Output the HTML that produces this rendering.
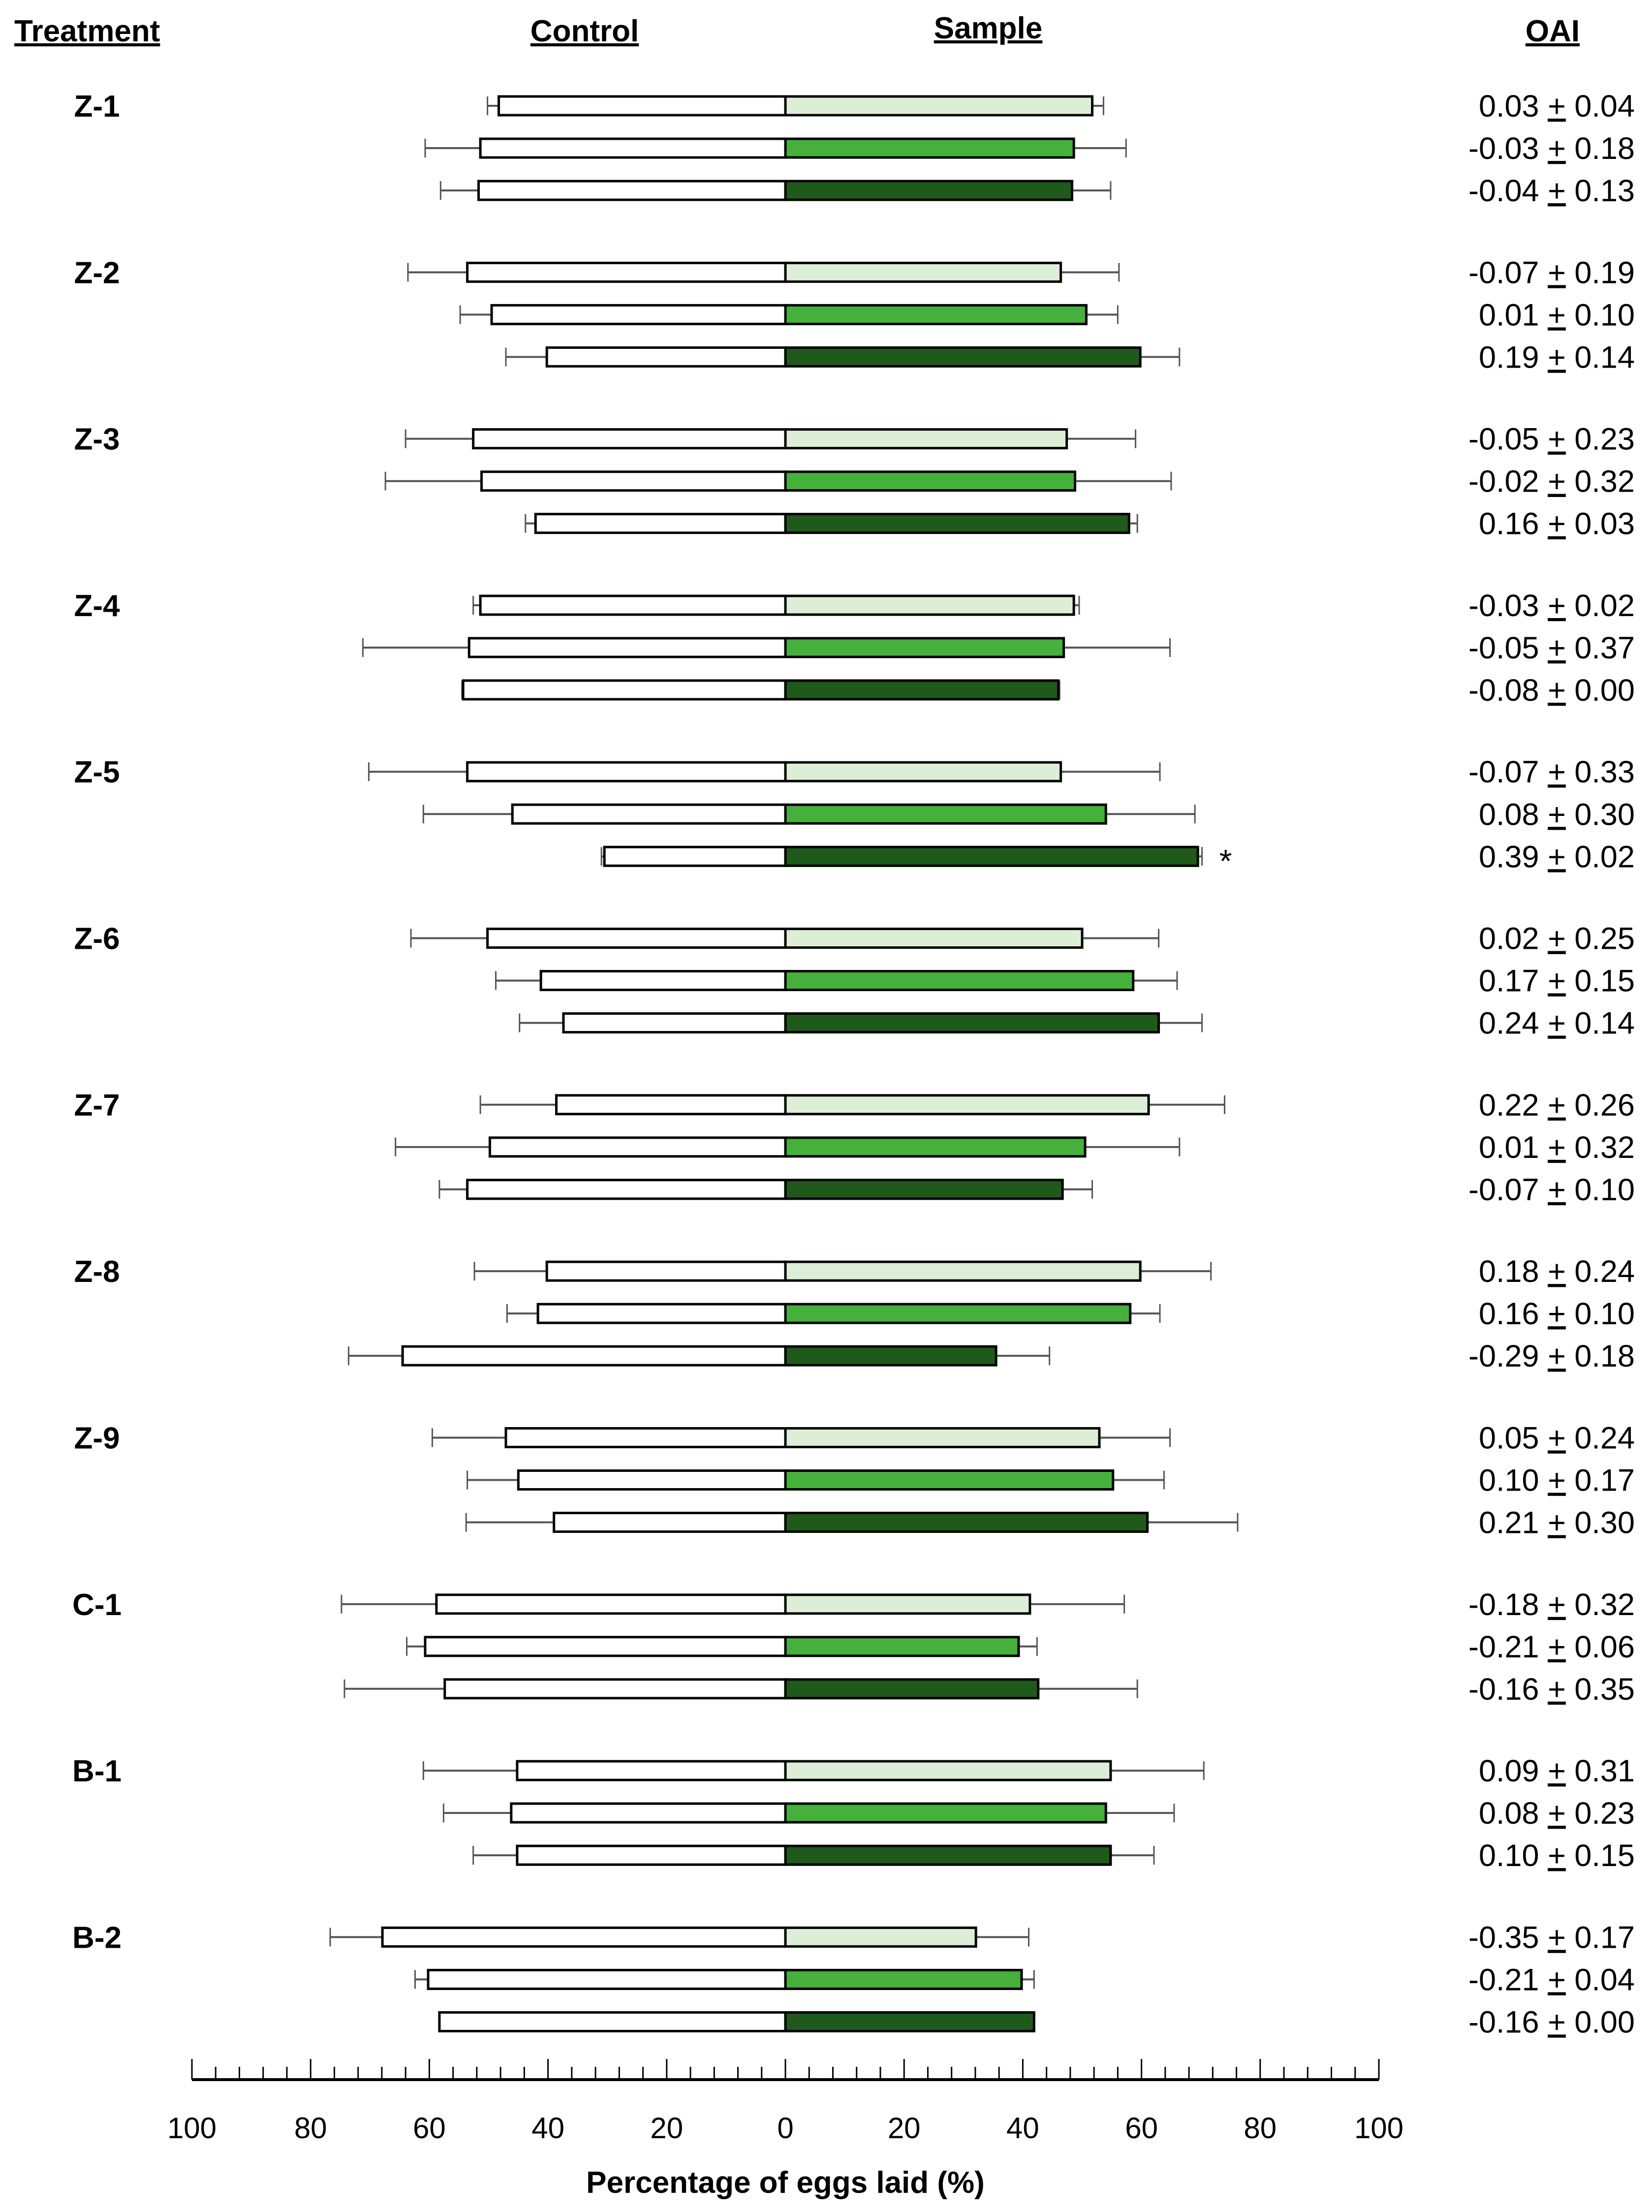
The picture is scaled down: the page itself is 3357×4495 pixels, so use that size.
<!DOCTYPE html>
<html><head><meta charset="utf-8"><style>
html,body{margin:0;padding:0;background:#fff}
svg{display:block}
text{font-family:"Liberation Sans",sans-serif}
</style></head><body>
<svg id="chart" width="3357" height="4495" viewBox="0 0 3357 4495" xmlns="http://www.w3.org/2000/svg">
<g font-weight="bold" font-size="62" text-decoration="underline">
<text x="29" y="84">Treatment</text>
<text x="1188" y="84" text-anchor="middle">Control</text>
<text x="2008" y="78" text-anchor="middle">Sample</text>
<text x="3155" y="84" text-anchor="middle">OAI</text>
</g>
<g id="bars"></g>
<g id="axis"></g>
<text x="1596" y="4456" text-anchor="middle" font-size="62" font-weight="bold">Percentage of eggs laid (%)</text>
</svg>
<script>
const groups = ["Z-1","Z-2","Z-3","Z-4","Z-5","Z-6","Z-7","Z-8","Z-9","C-1","B-1","B-2"];
const controlVals = [48.3,51.4,51.7, 53.6,49.5,40.2, 52.6,51.2,42.1, 51.4,53.3,54.3, 53.6,46.0,30.5, 50.2,41.2,37.4, 38.6,49.8,53.6, 40.2,41.7,64.5, 47.1,45.0,39.0, 58.8,60.7,57.4, 45.2,46.2,45.2, 67.9,60.2,58.3];
const controlErr = [50.2,60.7,58.1, 63.6,54.8,47.1, 64.0,67.4,43.8, 52.6,71.2,54.5, 70.2,61.0,31.0, 63.1,48.8,44.8, 51.4,65.7,58.3, 52.4,46.9,73.6, 59.5,53.6,53.8, 74.8,63.8,74.3, 61.0,57.6,52.6, 76.7,62.4,58.3];
const sampleVals = [51.7,48.6,48.3, 46.4,50.7,59.8, 47.4,48.8,57.9, 48.6,46.9,46.0, 46.4,54.0,69.5, 50.0,58.6,62.9, 61.2,50.5,46.7, 59.8,58.1,35.5, 52.9,55.2,61.0, 41.2,39.3,42.6, 54.8,54.0,54.8, 32.1,39.8,41.9];
const sampleErr = [53.6,57.4,54.8, 56.2,56.0,66.4, 59.0,65.0,59.3, 49.5,64.8,46.2, 63.1,69.0,70.2, 62.9,66.0,70.2, 74.0,66.4,51.7, 71.7,63.1,44.5, 64.8,63.8,76.2, 57.1,42.4,59.3, 70.5,65.5,62.1, 41.0,41.9,41.9];
const oaiMean = ["0.03","-0.03","-0.04","-0.07","0.01","0.19","-0.05","-0.02","0.16","-0.03","-0.05","-0.08","-0.07","0.08","0.39","0.02","0.17","0.24","0.22","0.01","-0.07","0.18","0.16","-0.29","0.05","0.10","0.21","-0.18","-0.21","-0.16","0.09","0.08","0.10","-0.35","-0.21","-0.16"];
const oaiSd = ["0.04","0.18","0.13","0.19","0.10","0.14","0.23","0.32","0.03","0.02","0.37","0.00","0.33","0.30","0.02","0.25","0.15","0.14","0.26","0.32","0.10","0.24","0.10","0.18","0.24","0.17","0.30","0.32","0.06","0.35","0.31","0.23","0.15","0.17","0.04","0.00"];
const sampleColors = ["#dcefd6","#45b03c","#1f5a1b"];
const xTicks = [100,80,60,40,20,0,20,40,60,80,100];

const NS="http://www.w3.org/2000/svg";
const X0=1596, PX=12.06;
const xl = v => X0 - v*PX;
const xr = v => X0 + v*PX;
const yRow = i => (75 + 118*Math.floor(i/3) + 30*(i%3))*2.867;
function mk(tag, attrs, parent){const e=document.createElementNS(NS,tag);for(const k in attrs)e.setAttribute(k,attrs[k]);parent.appendChild(e);return e;}
const bars=document.getElementById('bars');
const BH=38;
groups.forEach((g,gi)=>{
  const t=mk('text',{x:197,y:yRow(gi*3)+22,'text-anchor':'middle','font-size':62,'font-weight':'bold'},bars);
  t.textContent=g;
  
  
});
controlVals.forEach((v,i)=>{
  const y=yRow(i);
  const g=mk('g',{},bars);
  
  
  const e1=mk('line',{x1:xl(v),x2:xl(controlErr[i]),y1:y,y2:y,stroke:'#555','stroke-width':4},g);
  
  
  mk('line',{x1:xl(controlErr[i]),x2:xl(controlErr[i]),y1:y-BH/2,y2:y+BH/2,stroke:'#555','stroke-width':3},g);
  const e2=mk('line',{x1:xr(sampleVals[i]),x2:xr(sampleErr[i]),y1:y,y2:y,stroke:'#555','stroke-width':4},g);
  
  
  mk('line',{x1:xr(sampleErr[i]),x2:xr(sampleErr[i]),y1:y-BH/2,y2:y+BH/2,stroke:'#555','stroke-width':3},g);
  const c=mk('rect',{x:xl(v),y:y-BH/2,width:v*PX,height:BH,fill:'#fff',stroke:'#000','stroke-width':5},g);
  
  
  const s=mk('rect',{x:X0,y:y-BH/2,width:sampleVals[i]*PX,height:BH,fill:sampleColors[i%3],stroke:'#000','stroke-width':5},g);
  
  
  const o=mk('text',{x:3322,y:y+22,'text-anchor':'end','font-size':63},bars);
  
  
  const a=mk('tspan',{},o); a.textContent=oaiMean[i]+' ';
  const b=mk('tspan',{'text-decoration':'underline'},o); b.textContent='+';
  const c2=mk('tspan',{},o); c2.textContent=' '+oaiSd[i];
});
const star=mk('text',{x:xr(sampleErr[14])+48,y:yRow(14)+32,'text-anchor':'middle','font-size':66},bars);
star.textContent='*';


const ax=document.getElementById('axis');
const AY=4226;
const al=mk('line',{x1:xl(100),x2:xr(100),y1:AY,y2:AY,stroke:'#000','stroke-width':6},ax);


for(let u=-100;u<=100;u+=4){
  const major=(u%20===0);
  mk('line',{x1:X0+u*PX,x2:X0+u*PX,y1:AY,y2:AY-(major?42:26),stroke:'#000','stroke-width':3},ax);
}
xTicks.forEach((t,i)=>{
  const x = i<5 ? xl(t) : xr(t);
  const tx=mk('text',{x:x,y:4345,'text-anchor':'middle','font-size':60},ax);
  tx.textContent=t;
  
  
});
</script>
</body></html>
